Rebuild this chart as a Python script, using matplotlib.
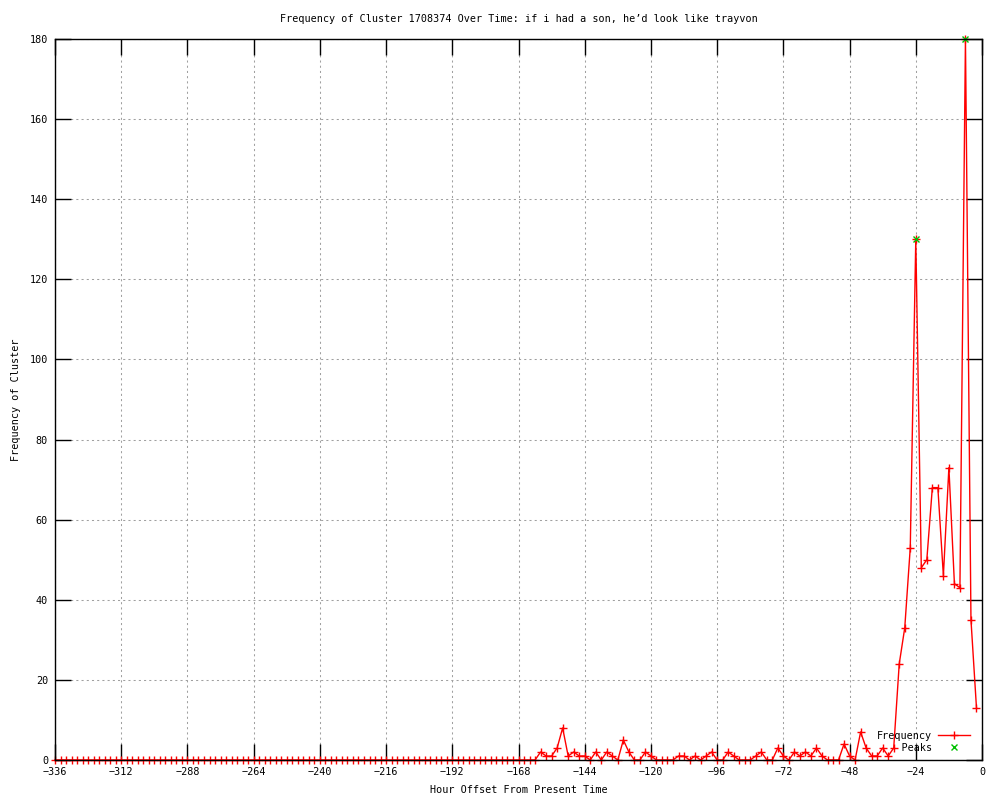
import numpy as np
import matplotlib
matplotlib.use("Agg")
import matplotlib.pyplot as plt

# hour offsets (every 2 hours) and cluster frequency
horas = np.arange(-336, 0, 2)
frequencia = [
    0, 0, 0, 0, 0, 0, 0, 0, 0, 0, 0, 0, 0, 0, 0, 0, 0, 0, 0, 0, 0, 0,
    0, 0, 0, 0, 0, 0, 0, 0, 0, 0, 0, 0, 0, 0, 0, 0, 0, 0, 0, 0, 0, 0,
    0, 0, 0, 0, 0, 0, 0, 0, 0, 0, 0, 0, 0, 0, 0, 0, 0, 0, 0, 0, 0, 0,
    0, 0, 0, 0, 0, 0, 0, 0, 0, 0, 0, 0, 0, 0, 0, 0, 0, 0, 0, 0, 0, 0,
    # -160 .. -122
    2, 1, 1, 3, 8, 1, 2, 1, 1, 0, 2, 0, 2, 1, 0, 5, 2, 0, 0, 2,
    # -120 .. -82
    1, 0, 0, 0, 0, 1, 1, 0, 1, 0, 1, 2, 0, 0, 2, 1, 0, 0, 0, 1,
    # -80 .. -42
    2, 0, 0, 3, 1, 0, 2, 1, 2, 1, 3, 1, 0, 0, 0, 4, 1, 0, 7, 3,
    # -40 .. -2
    1, 1, 3, 1, 3, 24, 33, 53, 130, 48, 50, 68, 68, 46, 73, 44, 43, 180, 35, 13,
]
picos_horas = [-24, -6]
picos_valores = [130, 180]

fonte = "DejaVu Sans Mono"
plt.rcParams["font.family"] = fonte
plt.rcParams["font.size"] = 7.3

fig = plt.figure(figsize=(10, 8), dpi=100)
ax = fig.add_axes([0.055, 0.05, 0.927, 0.90125])

ax.plot(horas, frequencia, color="red", linewidth=1, marker="+",
        markersize=5.5, markeredgewidth=1, label="Frequency", clip_on=False)
ax.plot(picos_horas, picos_valores, linestyle="none", color="#00c000",
        marker="x", markersize=4.5, markeredgewidth=1, label="    Peaks",
        clip_on=False)

ax.set_xlim(-336, 0)
ax.set_ylim(0, 180)
ax.set_xticks(np.arange(-336, 1, 24))
ax.set_yticks(np.arange(0, 181, 20))
ax.tick_params(direction="in", length=11.5, width=1, top=True, right=True,
               pad=5, labelsize=7.3)
ax.grid(True, color="#a0a0a0", linestyle=(0, (2, 3)), linewidth=0.75)
for lado in ax.spines.values():
    lado.set_linewidth(1)

ax.set_title("Frequency of Cluster 1708374 Over Time: if i had a son, he\u2019d look like trayvon",
             fontsize=7.3, pad=12)
ax.set_xlabel("Hour Offset From Present Time", fontsize=7.3, labelpad=6)
ax.set_ylabel("Frequency of Cluster", fontsize=7.3, labelpad=6)

ax.legend(loc="lower right", bbox_to_anchor=(0.995, 0.0), frameon=False,
          markerfirst=False, handlelength=3.2, handletextpad=0.6,
          labelspacing=0.2, fontsize=7.3, borderaxespad=0.3)

fig.savefig("out.png", dpi=100)
